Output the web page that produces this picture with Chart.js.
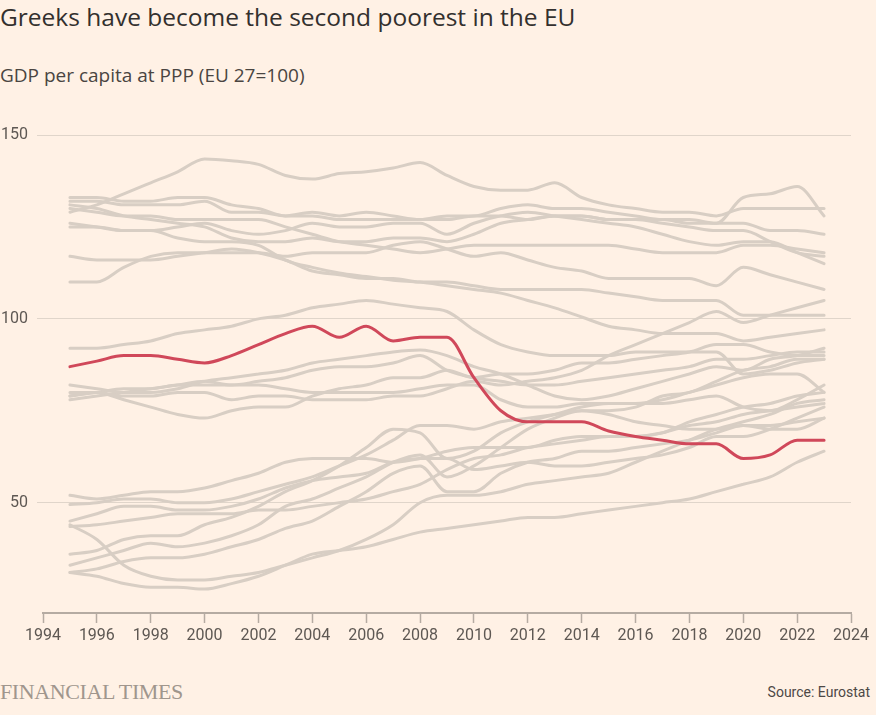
<!DOCTYPE html>
<html>
<head>
<meta charset="utf-8">
<script src="https://cdn.jsdelivr.net/npm/chart.js@4/dist/chart.umd.min.js"></script>
<style>
  html, body { margin: 0; padding: 0; background: #fff1e5; }
  body { width: 876px; height: 715px; position: relative; overflow: hidden; font-family: "Open Sans", Roboto, sans-serif; color: #33302e; }
  #title { position: absolute; left: 0; top: 3px; font-size: 24.5px; line-height: 28px; white-space: nowrap; }
  #subtitle { position: absolute; left: 0; top: 64px; font-size: 19px; line-height: 22px; color: #4a4541; white-space: nowrap; }
  #wrap { position: absolute; left: 0; top: 110px; width: 876px; height: 540px; }
  #ft { position: absolute; left: 0; top: 679px; font-family: "Liberation Serif", "DejaVu Serif", serif; font-size: 22px; letter-spacing: -0.4px; color: #a0968d; white-space: nowrap; }
  #source { position: absolute; right: 6px; top: 684px; font-family: Roboto, sans-serif; font-size: 14px; color: #4d4845; white-space: nowrap; }
</style>
</head>
<body>
<div id="title">Greeks have become the second poorest in the EU</div>
<div id="subtitle">GDP per capita at PPP (EU 27=100)</div>
<div id="wrap"><canvas id="chart"></canvas></div>
<div id="ft">FINANCIAL TIMES</div>
<div id="source">Source: Eurostat</div>
<script>
const years = [1995, 1996, 1997, 1998, 1999, 2000, 2001, 2002, 2003, 2004, 2005, 2006, 2007, 2008, 2009,
               2010, 2011, 2012, 2013, 2014, 2015, 2016, 2017, 2018, 2019, 2020, 2021, 2022, 2023];
const yTicks = [50, 100, 150];

// Greece, highlighted
const GR = [87, 88.5, 90, 90, 89, 88, 90, 93, 96, 98, 95, 98, 94, 95, 95, 84, 75, 72, 72, 72, 69.5, 68, 67, 66, 66, 62, 63, 67, 67];

// other member states (Luxembourg and Ireland sit above the scale)
const NL = [129, 131, 134, 137, 140, 143.5, 143, 142, 139, 138, 139.5, 140, 141, 142.5, 139, 136, 135, 135, 137, 133, 131, 130, 129, 129, 128, 130, 130, 130, 130];
const DK = [133, 133, 132, 132, 133, 133, 131, 130, 128, 129, 128, 129, 128, 127, 127, 128, 128, 127, 128, 128, 127, 127, 127, 126, 126, 133, 134, 136, 128];
const AT = [132, 132, 131, 131, 131, 132, 129, 129, 128, 128, 127, 127, 127, 127, 128, 128, 130, 131, 130, 130, 129, 128, 127, 127, 126, 126, 124, 124, 123];
const DE = [131, 130, 128, 127, 126, 125, 122, 121, 121, 122, 121, 121, 122, 122, 121, 123, 126, 127, 128, 128, 127, 127, 126, 125, 124, 124, 121, 118, 117];
const BE = [130, 129, 128, 128, 127, 127, 127, 127, 125, 123, 121, 120, 119, 118, 119, 120, 120, 120, 120, 120, 120, 119, 118, 118, 118, 120, 120, 119, 118];
const SE = [126, 125, 124, 124, 125, 126, 124, 123, 124, 126, 125, 125, 126, 126, 123, 126, 128, 129, 128, 127, 126, 125, 123, 121, 120, 121, 121, 118, 115];
const IT = [125, 125, 124, 124, 122, 121, 121, 120, 116, 114, 112.5, 111.5, 110.5, 110, 109, 108, 107, 105, 103, 100.5, 98, 97, 96, 96, 96, 94, 95, 96, 97];
const FR = [117, 116, 116, 116, 117, 118, 119, 118, 116, 113, 112, 111, 111, 110, 110, 109, 108, 108, 108, 108, 107, 106, 105, 105, 105, 101, 101, 101, 101];
const FI = [110, 110, 114, 117, 118, 118, 118, 118, 117, 118, 118, 118, 120, 121, 119, 117, 118, 116, 114, 113, 111, 111, 111, 111, 109, 114, 112, 110, 108];
const ES = [92, 92, 93, 94, 96, 97, 98, 100, 101, 103, 104, 105, 104, 103, 102, 97, 93, 91, 90, 90, 90, 91, 91, 91, 91, 85, 86, 88, 89];
const CY = [82, 81, 80, 80, 81, 83, 84, 85, 86, 88, 89, 90, 91, 91.5, 90, 87, 85, 82, 79, 78, 79, 81, 83, 85, 87, 86, 89, 90, 92];
const MT = [80, 80, 79, 79, 80, 80, 78, 79, 79, 78, 78, 78, 79, 79, 81, 83, 82, 83, 84, 86, 90, 93, 96, 99, 102, 99, 101, 103, 105];
const CZ = [79, 80, 78, 76, 74, 73, 75, 76, 76, 79, 81, 82, 84, 84, 86, 84, 85, 85, 86, 88, 88, 89, 90, 91, 93, 93, 91, 90, 90];
const SI = [79, 80, 81, 81, 82, 82, 82, 83, 84, 86, 87, 87, 88, 90, 86, 84, 83, 82, 82, 83, 84, 85, 86, 87, 89, 89, 90, 91, 91];
const PT = [78, 79, 80, 81, 82, 83, 82, 82, 81, 80, 80, 80, 80, 81, 82, 82, 78, 76, 76, 77, 77, 77, 77, 78, 79, 76, 75, 78, 82];
const HU = [52, 51, 52, 53, 53, 54, 56, 58, 61, 62, 62, 62, 61, 62, 64, 65, 65, 65, 67, 68, 68, 68, 69, 71, 72, 74, 75, 76, 77];
const SK = [49.5, 50, 51, 51, 50, 50, 51, 53, 55, 57, 60, 63, 67, 71, 71, 70, 72, 73, 74, 75, 74, 72, 71, 70, 70, 71, 70, 70, 73];
const EE = [36, 37, 40, 41, 41, 44, 46, 49, 53, 56, 60, 65, 70, 69, 62, 64, 69, 72, 74, 76, 77, 77, 78, 80, 82, 84, 85, 85, 80];
const LT = [33, 35, 37, 39, 38, 39, 41, 44, 49, 51, 54, 57, 61, 63, 57, 60, 65, 70, 73, 75, 75, 76, 79, 80, 83, 86, 87, 89, 89];
const LV = [31, 32, 34, 35, 35, 36, 38, 40, 43, 45, 49, 53, 58, 60, 53, 53, 58, 61, 62, 64, 64, 65, 66, 67, 69, 71, 71, 72, 73];
const PL = [43.5, 44, 45, 46, 47, 47, 47, 48, 48, 49, 50, 51, 53, 55, 59, 62, 63, 65, 66, 67, 68, 68, 69, 72, 74, 76, 77, 79, 80];
const HR = [45, 47, 49, 49, 48, 48, 49, 51, 54, 56, 57, 58, 61, 62, 62, 59, 60, 61, 60, 60, 61, 62, 63, 65, 68, 68, 70, 73, 76];
const RO = [44, 40, 33, 30, 29, 29, 30, 31, 33, 35, 37, 40, 44, 50, 52, 52, 53, 55, 56, 57, 58, 61, 64, 67, 70, 72, 74, 77, 78];
const BG = [31, 30, 28, 27, 27, 26.5, 28, 30, 33, 36, 37, 38, 40, 42, 43, 44, 45, 46, 46, 47, 48, 49, 50, 51, 53, 55, 57, 61, 64];

const others = [NL, DK, AT, DE, BE, SE, IT, FR, FI, ES, CY, MT, CZ, SI, PT, HU, SK, EE, LT, LV, PL, HR, RO, BG];

const GREY = "#d8cec4";
const RED = "#d0485a";

function points(vals) {
  return years.map((yr, i) => ({ x: yr, y: vals[i] }));
}

function line(vals, color) {
  return {
    data: points(vals),
    borderColor: color,
    borderWidth: 3,
    pointRadius: 0,
    cubicInterpolationMode: "monotone",
    borderCapStyle: "round",
    borderJoinStyle: "round",
    fill: false
  };
}

// first dataset is painted last, so Greece goes first to sit on top
const datasets = [line(GR, RED)].concat(others.map(v => line(v, GREY)));

new Chart(document.getElementById("chart"), {
  type: "line",
  data: { datasets: datasets },
  options: {
    responsive: true,
    maintainAspectRatio: false,
    animation: false,
    layout: { padding: { top: 25, right: 25, left: 0, bottom: 0 } },
    plugins: { legend: { display: false }, tooltip: { enabled: false } },
    scales: {
      x: {
        type: "linear",
        min: 1994,
        max: 2024,
        ticks: {
          stepSize: 2,
          padding: 3,
          color: "#5e5853",
          font: { family: "Roboto", size: 16 },
          callback: v => String(v)
        },
        grid: { drawOnChartArea: false, drawTicks: true, tickLength: 10, tickColor: "#b5aba2", tickWidth: 1.5 },
        border: { display: true, color: "#b5aba2", width: 2 },
        afterFit: s => { s.height = 37; }
      },
      y: {
        min: 20,
        max: 150,
        afterBuildTicks: s => { s.ticks = yTicks.map(v => ({ value: v })); },
        ticks: {
          padding: 9,
          color: "#5e5853",
          font: { family: "Roboto", size: 16 }
        },
        grid: { color: "#e0d5ca", lineWidth: 1, drawTicks: true, tickLength: 6, tickColor: "#e0d5ca" },
        border: { display: false },
        afterFit: s => { s.width = 43; }
      }
    }
  }
});
</script>
</body>
</html>
